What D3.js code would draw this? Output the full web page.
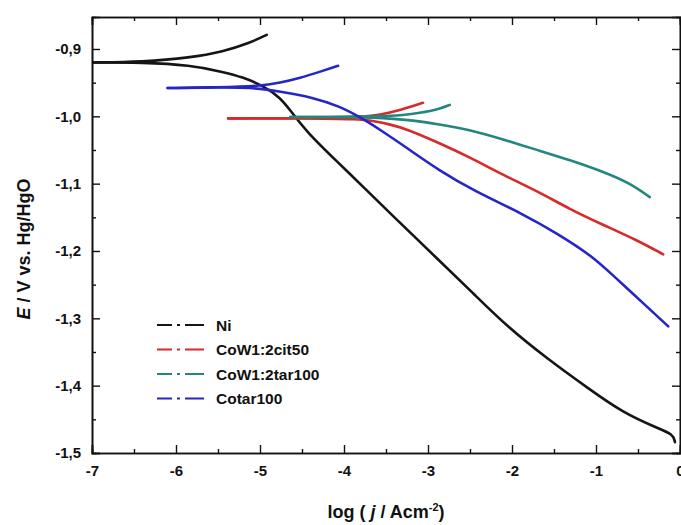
<!DOCTYPE html>
<html>
<head>
<meta charset="utf-8">
<script src="https://cdn.jsdelivr.net/npm/d3@7"></script>
<style>
  body { margin: 0; background: #fff; }
  svg { display: block; font-family: "Liberation Sans", Arial, sans-serif; }
</style>
</head>
<body>
<svg id="chart" width="681" height="525"></svg>
<script>
// data: [log j, E] pairs, each branch starts at the corrosion potential
const niCathodic = [[-7,-0.920],[-6.4,-0.920],[-5.83,-0.924],[-5.44,-0.934],[-5.20,-0.942],[-4.96,-0.955],[-4.76,-0.972],[-4.64,-0.991],[-4.44,-1.024],[-4.05,-1.071],[-3.81,-1.100],[-3.45,-1.144],[-2.86,-1.215],[-2.46,-1.263],[-2.06,-1.312],[-1.58,-1.360],[-1.07,-1.406],[-0.68,-1.440],[-0.27,-1.463],[-0.08,-1.472],[-0.06,-1.484]];
const niAnodic = [[-7,-0.920],[-6.4,-0.919],[-5.83,-0.913],[-5.44,-0.904],[-5.12,-0.891],[-4.92,-0.879]];

const citCathodic = [[-5.38,-1.003],[-4.5,-1.003],[-3.81,-1.004],[-3.65,-1.007],[-3.45,-1.012],[-3.25,-1.019],[-2.86,-1.040],[-2.50,-1.061],[-2.11,-1.087],[-1.70,-1.111],[-1.31,-1.138],[-0.92,-1.161],[-0.51,-1.184],[-0.20,-1.205]];
const citAnodic = [[-5.38,-1.003],[-4.5,-1.003],[-3.81,-1.001],[-3.57,-0.998],[-3.33,-0.991],[-3.06,-0.980]];

const tarCathodic = [[-4.64,-1.001],[-4.0,-1.001],[-3.57,-1.002],[-3.25,-1.005],[-2.86,-1.012],[-2.50,-1.020],[-2.11,-1.034],[-1.70,-1.050],[-1.31,-1.065],[-0.92,-1.082],[-0.60,-1.099],[-0.36,-1.120]];
const tarAnodic = [[-4.64,-1.001],[-4.0,-1.001],[-3.57,-1.000],[-3.33,-0.999],[-3.10,-0.995],[-2.86,-0.989],[-2.74,-0.983]];

const cotarCathodic = [[-6.1,-0.958],[-5.5,-0.957],[-5.12,-0.957],[-4.76,-0.963],[-4.37,-0.972],[-4.05,-0.985],[-3.77,-1.004],[-3.57,-1.020],[-3.25,-1.047],[-2.86,-1.081],[-2.46,-1.110],[-1.87,-1.145],[-1.46,-1.174],[-1.04,-1.208],[-0.80,-1.236],[-0.39,-1.283],[-0.14,-1.312]];
const cotarAnodic = [[-6.1,-0.958],[-5.5,-0.957],[-5.0,-0.955],[-4.76,-0.950],[-4.52,-0.943],[-4.29,-0.934],[-4.07,-0.925]];

const seriesNames = ["Ni", "CoW1:2cit50", "CoW1:2tar100", "Cotar100"];
const seriesColors = ["#151515", "#d82a2a", "#23877d", "#2626c8"];
const seriesBranches = [[niCathodic, niAnodic], [citCathodic, citAnodic], [tarCathodic, tarAnodic], [cotarCathodic, cotarAnodic]];

const xTicks = [-7, -6, -5, -4, -3, -2, -1, 0];
const yTicks = [-1.5, -1.4, -1.3, -1.2, -1.1, -1.0, -0.9];

const svg = d3.select("#chart");
const mLeft = 92, mRight = 680, mTop = 17, mBottom = 453;

const x = d3.scaleLinear().domain([-7, 0]).range([mLeft, mRight]);
const y = d3.scaleLinear().domain([-1.5, -0.8525]).range([mBottom, mTop]);

svg.append("clipPath").attr("id", "clip")
  .append("rect").attr("x", mLeft).attr("y", mTop).attr("width", mRight - mLeft).attr("height", mBottom - mTop);

// curves
const line = d3.line().x(d => x(d[0])).y(d => y(d[1])).curve(d3.curveBasis);
const plot = svg.append("g").attr("clip-path", "url(#clip)");
seriesBranches.forEach((branches, i) => {
  branches.forEach(b => {
    plot.append("path")
      .attr("d", line(b))
      .attr("fill", "none")
      .attr("stroke", seriesColors[i])
      .attr("stroke-width", 2.6)
      .attr("stroke-linejoin", "round")
      .attr("stroke-linecap", "round");
  });
});

// axes, ticks pointing inward on all four sides
const fmtY = d => d3.format(".1f")(d).replace(".", ",").replace("\u2212", "-");
const fmtX = d => String(d);
const xMinor = d3.range(-6.5, 0, 1);
const yMinor = d3.range(-1.45, -0.86, 0.1);

svg.append("g").attr("transform", `translate(0,${mBottom})`)
  .call(d3.axisBottom(x).tickValues(xTicks).tickSize(-8).tickPadding(12).tickFormat(fmtX));
svg.append("g").attr("transform", `translate(0,${mBottom})`)
  .call(d3.axisBottom(x).tickValues(xMinor).tickSize(-4).tickFormat(""));
svg.append("g").attr("transform", `translate(0,${mTop})`)
  .call(d3.axisTop(x).tickValues(xTicks).tickSize(-8).tickFormat(""));
svg.append("g").attr("transform", `translate(0,${mTop})`)
  .call(d3.axisTop(x).tickValues(xMinor).tickSize(-4).tickFormat(""));

svg.append("g").attr("transform", `translate(${mLeft},0)`)
  .call(d3.axisLeft(y).tickValues(yTicks).tickSize(-8).tickPadding(11).tickFormat(fmtY));
svg.append("g").attr("transform", `translate(${mLeft},0)`)
  .call(d3.axisLeft(y).tickValues(yMinor).tickSize(-4).tickFormat(""));
svg.append("g").attr("transform", `translate(${mRight},0)`)
  .call(d3.axisRight(y).tickValues(yTicks).tickSize(-8).tickFormat(""));
svg.append("g").attr("transform", `translate(${mRight},0)`)
  .call(d3.axisRight(y).tickValues(yMinor).tickSize(-4).tickFormat(""));

svg.selectAll(".domain").attr("stroke", "#111").attr("stroke-width", 1.6);
svg.selectAll(".tick line").attr("stroke", "#111").attr("stroke-width", 1.4);
svg.selectAll(".tick text").attr("font-size", 15).attr("font-weight", "bold")
  .attr("font-family", "'Liberation Sans', Arial, sans-serif").attr("fill", "#111");

// axis titles
const yt = svg.append("text")
  .attr("transform", "translate(30,249) rotate(-90)")
  .attr("text-anchor", "middle")
  .attr("font-size", 18).attr("font-weight", "bold").attr("fill", "#111");
yt.append("tspan").attr("font-style", "italic").text("E");
yt.append("tspan").text(" / V vs. Hg/HgO");

const xt = svg.append("text")
  .attr("x", 386).attr("y", 518)
  .attr("text-anchor", "middle")
  .attr("font-size", 18).attr("font-weight", "bold").attr("fill", "#111");
xt.append("tspan").text("log ( ");
xt.append("tspan").attr("font-style", "italic").text("j");
xt.append("tspan").text(" / Acm");
xt.append("tspan").attr("dy", -7).attr("font-size", 11).text("-2");
xt.append("tspan").attr("dy", 7).text(")");

// legend
const legend = svg.append("g");
seriesNames.forEach((name, i) => {
  const ly = 325 + i * 24.5;
  legend.append("line")
    .attr("x1", 157).attr("x2", 204).attr("y1", ly).attr("y2", ly)
    .attr("stroke", seriesColors[i]).attr("stroke-width", 2)
    .attr("stroke-dasharray", "15,5,3,5,19");
  legend.append("text")
    .attr("x", 216).attr("y", ly + 5.5)
    .attr("font-size", 15.5).attr("font-weight", "bold").attr("fill", "#111")
    .text(name);
});
</script>
</body>
</html>
